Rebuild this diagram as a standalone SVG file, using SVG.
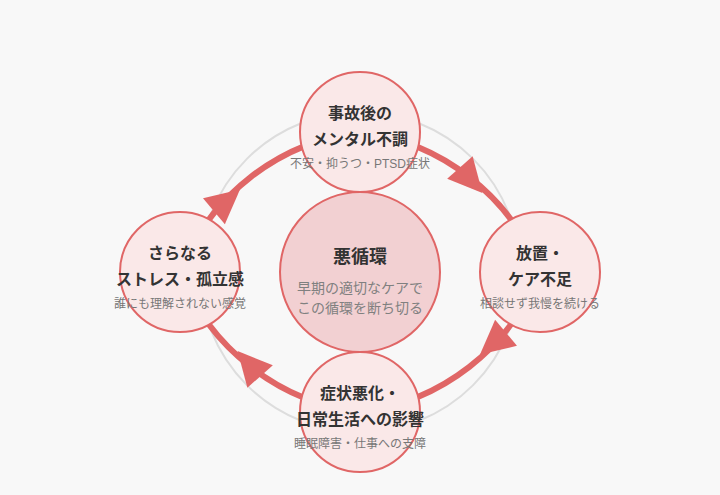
<svg xmlns="http://www.w3.org/2000/svg" xmlns:xlink="http://www.w3.org/1999/xlink" width="720" height="495" viewBox="0 0 720 495">
  <style>
    .ring { fill: none; stroke: #dddddd; stroke-width: 2; }
    .arc { fill: none; stroke: #e06666; stroke-width: 6; }
    .head { fill: #e06666; }
    .node { fill: #fae8e8; stroke: #e06666; stroke-width: 2; }
    .core { fill: #f2d0d2; stroke: #e06666; stroke-width: 2; }
    text { font-family: "Liberation Sans", "Noto Sans CJK JP", sans-serif; text-anchor: middle; }
    .t { font-size: 16px; font-weight: bold; fill: #333333; }
    .s { font-size: 12px; fill: #777777; }
    .ct { font-size: 18px; font-weight: bold; fill: #333333; }
    .cs { font-size: 14px; fill: #808080; }
  </style>
  <defs>
    <polygon id="ah" class="head" points="18,0 -16,-17 -16,17"/>
  </defs>
  <rect x="0" y="0" width="720" height="495" fill="#f8f8f8"/>
  <circle class="ring" cx="360" cy="272" r="160"/>
  <g id="connectors">
    <path class="arc" d="M 360 132 A 222 222 0 0 1 540 272"/>
    <path class="arc" d="M 540 272 A 222 222 0 0 1 360 412"/>
    <path class="arc" d="M 360 412 A 222 222 0 0 1 180 272"/>
    <path class="arc" d="M 180 272 A 222 222 0 0 1 360 132"/>
    <use xlink:href="#ah" href="#ah" transform="translate(470.5,179.5) rotate(48.5)"/>
    <use xlink:href="#ah" href="#ah" transform="translate(493.8,343) rotate(140)"/>
    <use xlink:href="#ah" href="#ah" transform="translate(249.5,364.5) rotate(228.5)"/>
    <use xlink:href="#ah" href="#ah" transform="translate(226.2,201) rotate(-40)"/>
  </g>
  <g id="center">
    <circle class="core" cx="360" cy="272" r="80"/>
    <text class="ct" x="360" y="263">悪循環</text>
    <text class="cs" x="360" y="293">早期の適切なケアで</text>
    <text class="cs" x="360" y="313">この循環を断ち切る</text>
  </g>
  <g id="node-top">
    <circle class="node" cx="360" cy="132" r="60"/>
    <text class="t" x="360" y="119">事故後の</text>
    <text class="t" x="360" y="145">メンタル不調</text>
    <text class="s" x="360" y="168">不安・抑うつ・PTSD症状</text>
  </g>
  <g id="node-right">
    <circle class="node" cx="540" cy="272" r="60"/>
    <text class="t" x="540" y="259">放置・</text>
    <text class="t" x="540" y="285">ケア不足</text>
    <text class="s" x="540" y="308">相談せず我慢を続ける</text>
  </g>
  <g id="node-bottom">
    <circle class="node" cx="360" cy="412" r="60"/>
    <text class="t" x="360" y="399">症状悪化・</text>
    <text class="t" x="360" y="425">日常生活への影響</text>
    <text class="s" x="360" y="448">睡眠障害・仕事への支障</text>
  </g>
  <g id="node-left">
    <circle class="node" cx="180" cy="272" r="60"/>
    <text class="t" x="180" y="259">さらなる</text>
    <text class="t" x="180" y="285">ストレス・孤立感</text>
    <text class="s" x="180" y="308">誰にも理解されない感覚</text>
  </g>
</svg>
